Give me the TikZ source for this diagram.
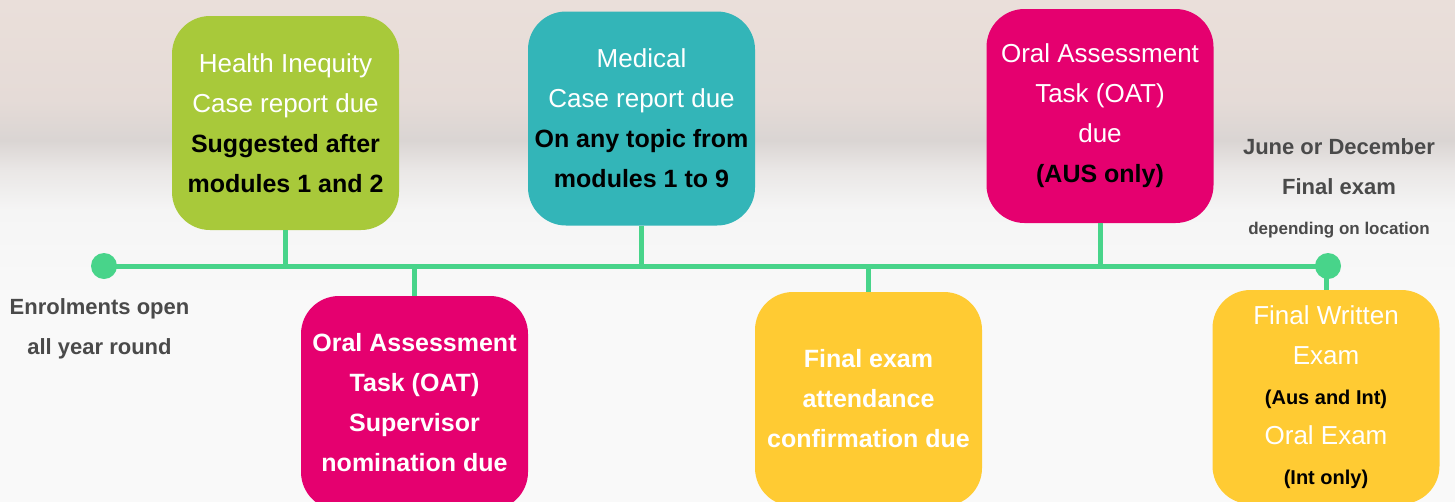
\documentclass[tikz,border=0pt]{standalone}
\usepackage{fontspec}
\setmainfont{Liberation Sans}
\definecolor{cgreen}{HTML}{A8C93A}
\definecolor{cteal}{HTML}{33B5B8}
\definecolor{cmag}{HTML}{E5006F}
\definecolor{cyel}{HTML}{FFCB33}
\definecolor{cline}{HTML}{48D48A}
\definecolor{cgrey}{HTML}{4A4A4A}
\definecolor{bgA}{HTML}{EADFDA}
\definecolor{bgB}{HTML}{E5DBD7}
\definecolor{bgC}{HTML}{DAD5D3}
\definecolor{bgD}{HTML}{EAE7E6}
\definecolor{bgE}{HTML}{F5F5F5}
\definecolor{bgF}{HTML}{F9F9F9}
\pgfdeclareverticalshading{bgshade}{100bp}{color(0bp)=(bgF); color(25bp)=(bgF); color(45bp)=(bgF); color(54bp)=(bgE); color(58bp)=(bgD); color(61bp)=(bgC); color(65bp)=(bgB); color(75bp)=(bgA); color(100bp)=(bgA)}
\newcommand{\wt}{\fontsize{26}{40}\selectfont\color{white}}
\newcommand{\wb}{\fontsize{25}{40}\selectfont\bfseries\color{white}}
\newcommand{\bk}{\fontsize{25}{40}\selectfont\bfseries\color{black}}
\newcommand{\bks}{\fontsize{20}{40}\selectfont\bfseries\color{black}}
\tikzset{
  evbox/.style={rounded corners=38pt, inner sep=0pt, minimum width=227pt, minimum height=214pt, align=center, font=\fontsize{26}{40}\selectfont},
  conn/.style={draw=cline, line width=5pt},
  tdot/.style={circle, fill=cline, minimum size=26pt, inner sep=0pt},
  greytxt/.style={align=center, text=cgrey, font=\fontsize{22}{40}\selectfont\bfseries},
}
\begin{document}
\begin{tikzpicture}[x=1pt,y=-1pt]
\useasboundingbox (0,0) rectangle (1455,501);
\clip (0,0) rectangle (1455,501);
\shade[shading=bgshade] (0,0) rectangle (1455,501);

% timeline
\coordinate (lstart) at (104,266);
\coordinate (lend) at (1328,266);
\draw[conn] (lstart) -- (lend);

% top boxes
\node[evbox, fill=cgreen] (hi) at (285.5,123) {{\wt Health Inequity}\\{\wt Case report due}\\{\bk Suggested after}\\{\bk modules 1 and 2}};
\node[evbox, fill=cteal] (med) at (641.5,118.5) {{\wt Medical}\\{\wt Case report due}\\{\bk On any topic from}\\{\bk modules 1 to 9}};
\node[evbox, fill=cmag] (oat) at (1100,116) {{\wt Oral Assessment}\\{\wt Task (OAT)}\\{\wt due}\\{\bk (AUS only)}};

% bottom boxes
\node[evbox, fill=cmag] (sup) at (414.5,403) {{\wb Oral Assessment}\\{\wb Task (OAT)}\\{\wb Supervisor}\\{\wb nomination due}};
\node[evbox, fill=cyel] (att) at (868.5,399) {\raisebox{2pt}{\wb Final exam}\\\raisebox{2pt}{\wb attendance}\\\raisebox{2pt}{\wb confirmation due}};
\node[evbox, fill=cyel] (fin) at (1326,397) {{\wt Final Written}\\{\wt Exam}\\{\bks (Aus and Int)}\\{\wt Oral Exam}\\{\bks (Int only)}};

% connectors
\draw[conn] (hi.south) -- (hi.south |- lstart);
\draw[conn] (med.south) -- (med.south |- lstart);
\draw[conn] (oat.south) -- (oat.south |- lstart);
\draw[conn] (sup.north) -- (sup.north |- lstart);
\draw[conn] (att.north) -- (att.north |- lstart);
\draw[conn] (fin.north) -- (fin.north |- lstart);

% dots
\node[tdot] (dstart) at (lstart) {};
\node[tdot] (dend) at (lend) {};

% side labels
\node[greytxt] (enrol) at (99.5,329) {Enrolments open\\all year round};
\node[greytxt] (june) at (1339,188) {June or December\\Final exam\\{\fontsize{17}{40}\selectfont depending on location}};
\end{tikzpicture}
\end{document}
